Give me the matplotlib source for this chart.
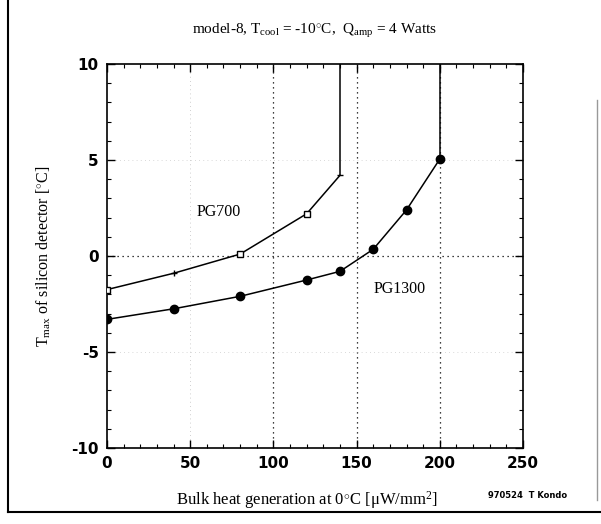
import numpy as np
import matplotlib
matplotlib.use("Agg")
import matplotlib.pyplot as plt
from matplotlib.lines import Line2D
from matplotlib.ticker import MultipleLocator

plt.rcParams["axes.unicode_minus"] = False
plt.rcParams["mathtext.fontset"] = "custom"
plt.rcParams["mathtext.rm"] = "Liberation Serif"
plt.rcParams["mathtext.it"] = "Liberation Serif:italic"

# données
x_pg700 = [0, 40, 80, 120, 140]
y_pg700 = [-1.75, -0.9, 0.1, 2.2, 4.2]
mk_pg700 = ["s", "+", "s", "s", "_"]

x_pg1300 = [0, 40, 80, 120, 140, 160, 180, 200]
y_pg1300 = [-3.3, -2.75, -2.1, -1.25, -0.8, 0.35, 2.4, 5.05]

x_ticks = [0, 50, 100, 150, 200, 250]
y_ticks = [-10, -5, 0, 5, 10]

fig = plt.figure(figsize=(6.01, 5.24), dpi=100)
ax = fig.add_axes([107/601, 1-448/524, (523-107)/601, (448-64)/524])

serif = ["Liberation Serif", "DejaVu Serif"]

# grille pointillée
for gx in [100, 150, 200]:
    ax.axvline(gx, color="k", ls=(0, (1, 3)), lw=0.9, zorder=1)
ax.axvline(50, color="0.75", ls=(0, (1, 4)), lw=0.6, zorder=1)
ax.axhline(0, color="k", ls=(0, (1, 3)), lw=0.9, zorder=1)
for gy in [-5, 5]:
    ax.axhline(gy, color="0.8", ls=(0, (1, 4)), lw=0.6, zorder=1)

ytop = 10
# PG700
ax.plot(x_pg700, y_pg700, color="k", lw=1.1, zorder=3)
ax.plot([x_pg700[-1], x_pg700[-1]], [y_pg700[-1], ytop], color="k", lw=1.1, zorder=3)
for xx, yy, m in zip(x_pg700, y_pg700, mk_pg700):
    ax.plot(xx, yy, marker=m, ms=5, mfc="white", mec="k", mew=1.0, zorder=4)

# PG1300
ax.plot(x_pg1300, y_pg1300, color="k", lw=1.1, marker="o", ms=6, mfc="k", mec="k", zorder=3)
ax.plot([x_pg1300[-1], x_pg1300[-1]], [y_pg1300[-1], ytop], color="k", lw=1.1, zorder=3)

ax.text(67, 2.3, "PG700", fontsize=11.5, family=serif, ha="center", va="center")
ax.text(176, -1.7, "PG1300", fontsize=11.5, family=serif, ha="center", va="center")

ax.set_xlim(0, 250)
ax.set_ylim(-10, 10)
ax.set_xticks(x_ticks)
ax.set_yticks(y_ticks)
ax.xaxis.set_minor_locator(MultipleLocator(10))
ax.yaxis.set_minor_locator(MultipleLocator(1))
ax.tick_params(which="both", direction="in", top=True, right=True)
ax.tick_params(which="major", length=6, width=1, labelsize=11, pad=6)
ax.tick_params(which="minor", length=3, width=0.8)
for lab in ax.get_xticklabels() + ax.get_yticklabels():
    lab.set_fontweight("bold")
for s in ax.spines.values():
    s.set_linewidth(1.2)

ax.set_title(r"model-8, T$_{\rm cool}$ = -10$^{\circ}$C,  Q$_{\rm amp}$ = 4 Watts",
             fontsize=11, family=serif, pad=22)
ax.set_xlabel(r"Bulk heat generation at 0$^{\circ}$C [μW/mm$^{2}$]",
              fontsize=12, family=serif)
ax.xaxis.set_label_coords(0.48, -0.107)
ax.set_ylabel(r"T$_{\rm max}$ of silicon detector [$^{\circ}$C]",
              fontsize=11.5, family=serif)
ax.yaxis.set_label_coords(-0.13, 0.5)
fig.text(528/601, 1-495/524, "970524  T Kondo", fontsize=6, fontweight="bold",
         ha="center", va="center")

# cadre du scan
fig.add_artist(Line2D([8/601, 8/601], [1-512/524, 1.0], color="k", lw=1.5))
fig.add_artist(Line2D([8/601, 1.0], [1-512/524, 1-512/524], color="k", lw=1.5))
fig.add_artist(Line2D([597/601, 597/601], [1-500/524, 1-100/524], color="0.6", lw=1.0))

fig.savefig("out.png", dpi=100)
